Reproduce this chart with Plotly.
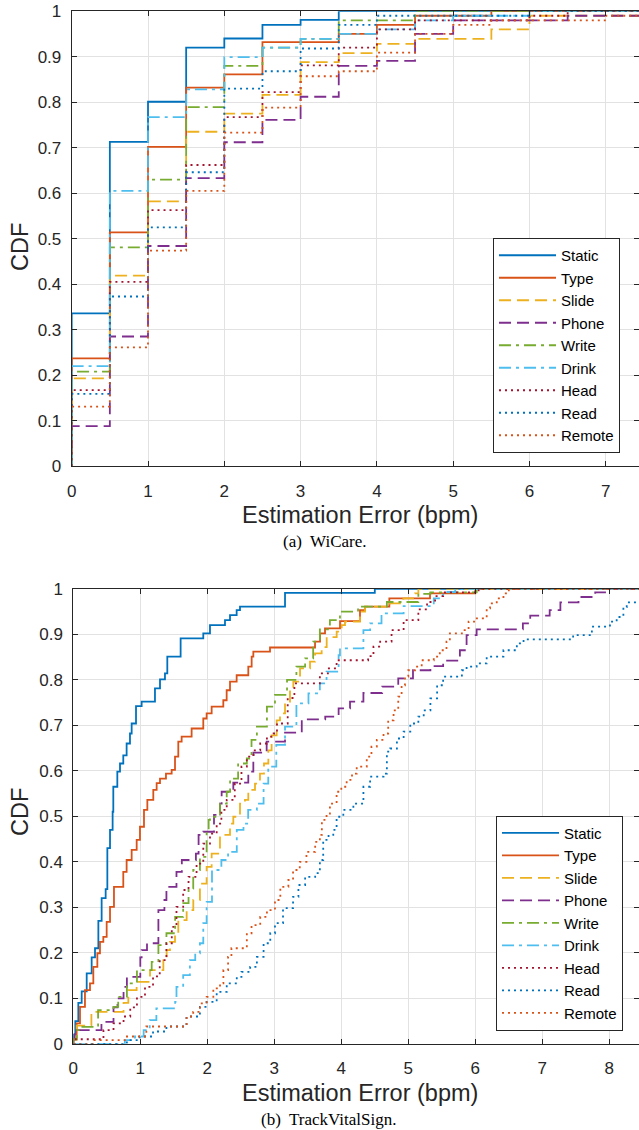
import plotly.graph_objects as go

# ---------------- labels ----------------
series_names = ["Static", "Type", "Slide", "Phone", "Write", "Drink", "Head", "Read", "Remote"]
x_ticks_a = [0, 1, 2, 3, 4, 5, 6, 7]
x_ticks_b = [0, 1, 2, 3, 4, 5, 6, 7, 8]
y_tick_vals = [0, 0.1, 0.2, 0.3, 0.4, 0.5, 0.6, 0.7, 0.8, 0.9, 1.0]
y_tick_text = ["0", "0.1", "0.2", "0.3", "0.4", "0.5", "0.6", "0.7", "0.8", "0.9", "1"]
x_title = "Estimation Error (bpm)"
y_title = "CDF"
caption_a = "(a)  WiCare."
caption_b = "(b)  TrackVitalSign."

# ---------------- (a) WiCare: CDF step values (x where the step occurs, CDF after step) ----------------
wi_static_x = [0, 0.5, 1, 1.5, 2, 2.5, 3, 3.5]
wi_static_y = [0.336, 0.713, 0.801, 0.920, 0.940, 0.970, 0.981, 1.0]
wi_type_x = [0, 0.5, 1, 1.5, 2, 2.5, 3.5, 4, 4.5, 5.5]
wi_type_y = [0.237, 0.514, 0.702, 0.832, 0.861, 0.932, 0.950, 0.970, 0.990, 1.0]
wi_slide_x = [0, 0.5, 1, 1.5, 2, 2.5, 3, 3.5, 4, 4.5, 5.5, 6]
wi_slide_y = [0.193, 0.419, 0.582, 0.735, 0.775, 0.816, 0.888, 0.908, 0.928, 0.939, 0.960, 0.990]
wi_phone_x = [0, 0.5, 1, 1.5, 2, 2.5, 3, 3.5, 4, 4.5, 5, 6.5]
wi_phone_y = [0.088, 0.285, 0.484, 0.633, 0.712, 0.761, 0.812, 0.880, 0.891, 0.950, 0.980, 0.990]
wi_write_x = [0, 0.5, 1, 1.5, 2, 2.5, 3, 3.5, 4.5]
wi_write_y = [0.208, 0.481, 0.630, 0.789, 0.880, 0.920, 0.939, 0.980, 1.0]
wi_drink_x = [0, 0.5, 1, 1.5, 2, 2.5, 3, 3.5, 4, 4.5, 5, 6]
wi_drink_y = [0.220, 0.605, 0.767, 0.828, 0.899, 0.920, 0.939, 0.950, 0.960, 0.980, 0.990, 1.0]
wi_head_x = [0, 0.5, 1, 1.5, 2, 2.5, 3, 3.5, 4, 4.5, 6, 6.5]
wi_head_y = [0.167, 0.405, 0.563, 0.662, 0.767, 0.822, 0.881, 0.920, 0.960, 0.980, 0.990, 1.0]
wi_read_x = [0, 0.5, 1, 1.5, 2, 2.5, 3, 3.5, 4, 6]
wi_read_y = [0.159, 0.373, 0.525, 0.646, 0.830, 0.868, 0.918, 0.970, 0.990, 1.0]
wi_remote_x = [0, 0.5, 1, 1.5, 2, 2.5, 3, 3.5, 4, 4.5, 5, 5.5, 7]
wi_remote_y = [0.131, 0.261, 0.474, 0.605, 0.733, 0.788, 0.857, 0.868, 0.909, 0.950, 0.970, 0.980, 0.990]

# ---------------- (b) TrackVitalSign ----------------
tvs_static_x = [0, 0.03, 0.075, 0.125, 0.20, 0.274, 0.324, 0.374, 0.423, 0.483, 0.508, 0.548, 0.587, 0.597,
                0.657, 0.697, 0.746, 0.796, 0.846, 0.871, 0.936, 1.02, 1.219, 1.294, 1.368, 1.403, 1.602, 1.94,
                2.04, 2.264, 2.339, 2.438, 2.488, 3.16, 4.5]
tvs_static_y = [0.02, 0.05, 0.09, 0.115, 0.155, 0.19, 0.21, 0.27, 0.32, 0.34, 0.43, 0.47, 0.51, 0.565,
                0.598, 0.616, 0.634, 0.66, 0.682, 0.704, 0.742, 0.752, 0.781, 0.801, 0.814, 0.851, 0.891, 0.902,
                0.92, 0.931, 0.942, 0.953, 0.961, 0.991, 1.0]
tvs_type_x = [0, 0.05, 0.1, 0.174, 0.249, 0.299, 0.359, 0.398, 0.448, 0.498, 0.548, 0.607, 0.746, 0.796,
              0.871, 0.946, 0.995, 1.055, 1.105, 1.194, 1.244, 1.294, 1.383, 1.468, 1.518, 1.567, 1.617, 1.766,
              1.94, 1.99, 2.065, 2.239, 2.289, 2.339, 2.438, 2.612, 2.662, 2.687, 2.936, 3.608, 3.683, 3.757,
              3.981, 4.279, 4.354, 4.717, 5.324, 6.0]
tvs_type_y = [0.01, 0.045, 0.081, 0.118, 0.133, 0.169, 0.199, 0.224, 0.235, 0.268, 0.301, 0.345, 0.378, 0.404,
              0.426, 0.448, 0.477, 0.514, 0.536, 0.558, 0.573, 0.583, 0.594, 0.602, 0.631, 0.664, 0.675, 0.693,
              0.715, 0.726, 0.741, 0.755, 0.777, 0.796, 0.81, 0.829, 0.851, 0.862, 0.871, 0.884, 0.902, 0.913,
              0.929, 0.953, 0.961, 0.979, 0.99, 1.0]
tvs_slide_x = [0, 0.05, 0.27, 0.75, 0.821, 0.945, 1.145, 1.344, 1.393, 1.443, 1.518, 1.567, 1.692, 1.791, 1.89,
               1.99, 2.065, 2.189, 2.339, 2.388, 2.488, 2.562, 2.612, 2.712, 2.786, 2.846, 2.911, 2.96, 3.035,
               3.085, 3.16, 3.234, 3.284, 3.384, 3.533, 3.608, 3.707, 3.782, 3.931, 4.006, 4.055, 4.279, 4.354,
               4.727, 4.926, 5.1, 5.15]
tvs_slide_y = [0.01, 0.04, 0.07, 0.09, 0.118, 0.136, 0.162, 0.184, 0.206, 0.224, 0.243, 0.272, 0.294, 0.316, 0.352,
               0.389, 0.418, 0.459, 0.484, 0.499, 0.528, 0.536, 0.558, 0.572, 0.594, 0.616, 0.645, 0.678, 0.711,
               0.726, 0.748, 0.781, 0.796, 0.825, 0.84, 0.858, 0.872, 0.894, 0.906, 0.92, 0.928, 0.95, 0.961,
               0.968, 0.979, 0.99, 1.0]
tvs_phone_x = [0, 0.02, 0.42, 0.6, 0.66, 0.75, 0.8, 1.0, 1.02, 1.1, 1.27, 1.36, 1.39, 1.54, 1.62, 1.83, 1.87,
               1.94, 2.1, 2.19, 2.214, 2.388, 2.612, 2.687, 2.886, 3.16, 3.41, 3.76, 3.96, 4.13, 4.33, 4.61, 4.85,
               5.07, 5.33, 5.52, 5.77, 5.87, 6.02, 6.71, 6.82, 7.11, 7.27, 7.54, 7.79, 8.0]
tvs_phone_y = [0.01, 0.03, 0.048, 0.08, 0.1, 0.125, 0.147, 0.19, 0.206, 0.221, 0.294, 0.316, 0.345, 0.378, 0.404,
               0.418, 0.459, 0.466, 0.503, 0.528, 0.554, 0.574, 0.598, 0.64, 0.664, 0.684, 0.713, 0.719, 0.737,
               0.752, 0.771, 0.785, 0.803, 0.821, 0.83, 0.842, 0.865, 0.898, 0.911, 0.924, 0.941, 0.953, 0.97,
               0.982, 0.992, 1.0]
tvs_write_x = [0, 0.05, 0.1, 0.37, 0.6, 0.67, 0.8, 0.95, 1.17, 1.27, 1.39, 1.52, 1.64, 1.72, 1.79, 1.89, 1.99,
               2.02, 2.04, 2.19, 2.29, 2.34, 2.46, 2.59, 2.66, 2.74, 2.89, 3.01, 3.19, 3.33, 3.46, 3.58, 3.68,
               3.83, 3.98, 4.25, 4.68, 5.15, 5.33, 6.02]
tvs_write_y = [0.01, 0.03, 0.037, 0.074, 0.081, 0.103, 0.133, 0.162, 0.18, 0.217, 0.243, 0.279, 0.309, 0.341,
               0.382, 0.411, 0.47, 0.492, 0.499, 0.528, 0.554, 0.583, 0.616, 0.627, 0.668, 0.697, 0.741, 0.767,
               0.8, 0.829, 0.847, 0.884, 0.911, 0.931, 0.95, 0.961, 0.971, 0.989, 0.992, 1.0]
tvs_drink_x = [0.77, 0.92, 1.05, 1.14, 1.24, 1.52, 1.54, 1.64, 1.74, 1.82, 1.89, 1.94, 1.99, 2.07, 2.21, 2.31,
               2.44, 2.54, 2.61, 2.74, 2.84, 2.91, 3.03, 3.16, 3.33, 3.51, 3.68, 3.78, 3.96, 3.98, 4.33, 4.43,
               4.6, 4.93, 5.38, 5.52, 5.7]
tvs_drink_y = [0.008, 0.016, 0.03, 0.052, 0.078, 0.092, 0.125, 0.151, 0.184, 0.199, 0.221, 0.265, 0.312, 0.382,
               0.404, 0.422, 0.47, 0.484, 0.514, 0.528, 0.572, 0.609, 0.657, 0.697, 0.748, 0.77, 0.792, 0.818,
               0.854, 0.869, 0.909, 0.924, 0.946, 0.962, 0.979, 0.993, 1.0]
tvs_head_x = [0.02, 0.45, 0.6, 0.75, 0.85, 0.95, 1.07, 1.19, 1.29, 1.39, 1.47, 1.54, 1.64, 1.72, 1.84, 1.94,
              2.04, 2.14, 2.21, 2.29, 2.41, 2.51, 2.59, 2.69, 2.79, 2.89, 2.99, 3.04, 3.2, 3.3, 3.68, 3.8, 3.93,
              4.4, 4.48, 4.58, 4.75, 4.93, 5.15, 5.28, 5.4, 5.52, 6.05]
tvs_head_y = [0.01, 0.03, 0.045, 0.06, 0.08, 0.103, 0.125, 0.148, 0.184, 0.221, 0.257, 0.301, 0.338, 0.367,
              0.396, 0.44, 0.462, 0.484, 0.514, 0.536, 0.572, 0.609, 0.631, 0.645, 0.66, 0.675, 0.682, 0.704,
              0.76, 0.792, 0.814, 0.825, 0.843, 0.852, 0.873, 0.884, 0.909, 0.931, 0.955, 0.971, 0.984, 0.992, 1.0]
tvs_read_x = [0.8, 0.99, 1.19, 1.39, 1.69, 1.89, 1.99, 2.14, 2.29, 2.44, 2.51, 2.64, 2.74, 2.84, 2.94, 3.01,
              3.13, 3.28, 3.36, 3.46, 3.61, 3.68, 3.73, 3.81, 3.88, 3.93, 4.03, 4.18, 4.33, 4.43, 4.63, 4.68,
              4.73, 4.83, 4.93, 5.03, 5.15, 5.23, 5.33, 5.43, 5.52, 5.8, 5.87, 6.02, 6.17, 6.42, 6.62, 6.72,
              7.46, 7.74, 8.01, 8.11, 8.21, 8.26]
tvs_read_y = [0.008, 0.016, 0.027, 0.038, 0.06, 0.081, 0.092, 0.114, 0.133, 0.147, 0.158, 0.169, 0.191, 0.221,
              0.243, 0.265, 0.298, 0.323, 0.349, 0.367, 0.375, 0.404, 0.448, 0.459, 0.47, 0.499, 0.514, 0.528,
              0.565, 0.587, 0.594, 0.642, 0.649, 0.671, 0.686, 0.704, 0.719, 0.733, 0.759, 0.788, 0.807, 0.821,
              0.829, 0.836, 0.851, 0.865, 0.88, 0.889, 0.898, 0.917, 0.928, 0.938, 0.96, 0.97]
tvs_remote_x = [0.3, 0.8, 1.09, 1.69, 1.79, 1.89, 1.99, 2.09, 2.19, 2.24, 2.31, 2.36, 2.59, 2.66, 2.79, 2.89,
                3.01, 3.09, 3.21, 3.28, 3.38, 3.48, 3.61, 3.68, 3.71, 3.78, 3.83, 3.93, 4.0, 4.08, 4.16, 4.23,
                4.38, 4.45, 4.53, 4.63, 4.7, 4.78, 4.85, 4.9, 4.95, 5.0, 5.1, 5.2, 5.38, 5.47, 5.57, 5.62, 5.8,
                5.9, 6.0, 6.17, 6.22, 6.32, 6.42, 6.5]
tvs_remote_y = [0.008, 0.016, 0.038, 0.06, 0.07, 0.089, 0.103, 0.122, 0.133, 0.162, 0.191, 0.21, 0.243, 0.261,
                0.279, 0.294, 0.316, 0.345, 0.36, 0.382, 0.4, 0.422, 0.444, 0.459, 0.492, 0.506, 0.528, 0.554,
                0.565, 0.58, 0.594, 0.609, 0.631, 0.653, 0.668, 0.682, 0.711, 0.733, 0.763, 0.788, 0.807, 0.821,
                0.829, 0.843, 0.851, 0.865, 0.884, 0.902, 0.909, 0.928, 0.935, 0.957, 0.968, 0.979, 0.99, 1.0]

wicare = [(wi_static_x, wi_static_y), (wi_type_x, wi_type_y), (wi_slide_x, wi_slide_y),
          (wi_phone_x, wi_phone_y), (wi_write_x, wi_write_y), (wi_drink_x, wi_drink_y),
          (wi_head_x, wi_head_y), (wi_read_x, wi_read_y), (wi_remote_x, wi_remote_y)]
tvs = [(tvs_static_x, tvs_static_y), (tvs_type_x, tvs_type_y), (tvs_slide_x, tvs_slide_y),
       (tvs_phone_x, tvs_phone_y), (tvs_write_x, tvs_write_y), (tvs_drink_x, tvs_drink_y),
       (tvs_head_x, tvs_head_y), (tvs_read_x, tvs_read_y), (tvs_remote_x, tvs_remote_y)]

# ---------------- styles ----------------
colors = ["#0072BD", "#D95319", "#EDB120", "#7E2F8E", "#77AC30", "#4DBEEE", "#A2142F", "#0072BD", "#D95319"]
dashes = ["solid", "solid", "12px,6px", "12px,6px", "12px,5px,3px,5px", "12px,5px,3px,5px",
          "2px,4px", "2px,4px", "2px,4px"]
LW = 1.8
AX = "#262626"
GRID = "#e2e2e2"
FONT = "Liberation Sans"

W, H = 639, 1130
ML = 71
PW = W - ML


def px_x(px):
    return (px - ML) / PW


def px_y(py):
    return 1 - py / H


fig = go.Figure()


def add_set(data, xa, ya, legend, x_end):
    for name, (xs, ys), c, d in zip(series_names, data, colors, dashes):
        x = [0] + list(xs) + [x_end]
        y = [0] + list(ys) + [ys[-1]]
        fig.add_trace(go.Scatter(x=x, y=y, mode="lines", name=name, line=dict(color=c, width=LW, dash=d, shape="hv"),
                                 xaxis=xa, yaxis=ya, legend=legend, showlegend=True))


add_set(wicare, "x", "y", "legend", 9)
add_set(tvs, "x2", "y2", "legend2", 9)

axis_common = dict(showline=True, linecolor=AX, linewidth=1, mirror="ticks", ticks="inside", ticklen=5,
                   tickcolor=AX, showgrid=True, gridcolor=GRID, gridwidth=1, zeroline=False, automargin=False,
                   tickfont=dict(family=FONT, size=17, color=AX))

top_y0, top_y1 = 466.2, 11.2
bot_y0, bot_y1 = 1043.8, 588.8

fig.update_layout(
    template="none",
    width=W, height=H, margin=dict(l=ML, r=0, t=0, b=0, autoexpand=False),
    paper_bgcolor="white", plot_bgcolor="white",
    xaxis=dict(axis_common, domain=[px_x(71.7), 1], range=[0, (W - 71.7) / 76.3], anchor="y",
               tickvals=x_ticks_a, ticktext=[str(v) for v in x_ticks_a], ticklabelstandoff=9),
    yaxis=dict(axis_common, domain=[px_y(top_y0), px_y(top_y1)], range=[0, 1], anchor="x",
               tickvals=y_tick_vals, ticktext=y_tick_text, ticklabelstandoff=6),
    xaxis2=dict(axis_common, domain=[px_x(73.3), 1], range=[0, (W - 73.3) / 67.0], anchor="y2",
                tickvals=x_ticks_b, ticktext=[str(v) for v in x_ticks_b], ticklabelstandoff=9),
    yaxis2=dict(axis_common, domain=[px_y(bot_y0), px_y(bot_y1)], range=[0, 1], anchor="x2",
                tickvals=y_tick_vals, ticktext=y_tick_text, ticklabelstandoff=6),
    legend=dict(x=px_x(493), y=px_y(238), xanchor="left", yanchor="top", bgcolor="white",
                bordercolor=AX, borderwidth=1, font=dict(family=FONT, size=15, color="black"),
                itemwidth=57, tracegroupgap=0),
    legend2=dict(x=px_x(496), y=px_y(815.7), xanchor="left", yanchor="top", bgcolor="white",
                 bordercolor=AX, borderwidth=1, font=dict(family=FONT, size=15, color="black"),
                 itemwidth=57, tracegroupgap=0),
)

ann_font = dict(family=FONT, size=23.5, color=AX)
cap_font = dict(family="Liberation Serif", size=17, color="black")
common_ann = dict(xref="paper", yref="paper", showarrow=False, xanchor="center", yanchor="middle")
annotations = [
    dict(common_ann, text=x_title, x=px_x(360), y=px_y(515), font=ann_font),
    dict(common_ann, text=x_title, x=px_x(360), y=px_y(1093), font=ann_font),
    dict(common_ann, text=y_title, x=px_x(20), y=px_y(247), font=ann_font, textangle=-90),
    dict(common_ann, text=y_title, x=px_x(20), y=px_y(812), font=ann_font, textangle=-90),
    dict(common_ann, text=caption_a, x=px_x(325), y=px_y(541), font=cap_font),
    dict(common_ann, text=caption_b, x=px_x(328), y=px_y(1119), font=cap_font),
]
fig.update_layout(annotations=annotations)

fig.write_html("out.html", config={"displayModeBar": False},
               post_script="document.body.style.margin='0';document.body.style.overflow='hidden';")
